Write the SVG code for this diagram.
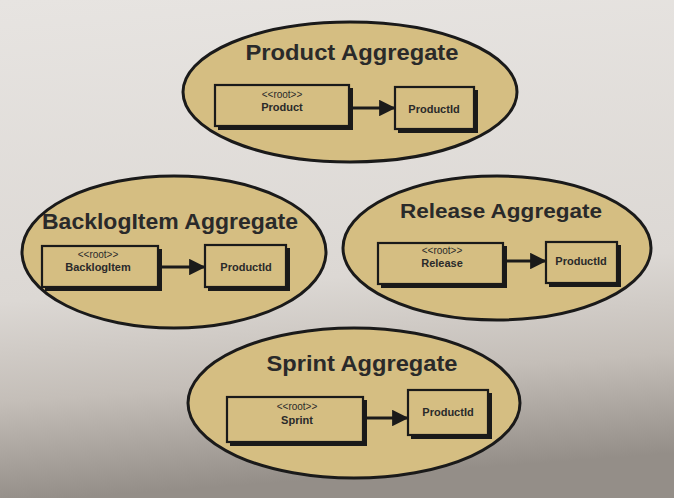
<svg xmlns="http://www.w3.org/2000/svg" width="674" height="498" viewBox="0 0 674 498">
  <defs>
    <linearGradient id="bg" x1="0" y1="0" x2="0.1" y2="1">
      <stop offset="0" stop-color="#e7e4e1"/>
      <stop offset="0.6" stop-color="#dcd8d4"/>
      <stop offset="0.8" stop-color="#c4beb8"/>
      <stop offset="1" stop-color="#948e88"/>
    </linearGradient>
    <marker id="arrow" viewBox="0 0 10 10" refX="9" refY="5" markerWidth="5.5" markerHeight="5.5" orient="auto" markerUnits="strokeWidth">
      <path d="M0,0 L10,5 L0,10 z" fill="#1a1a1a"/>
    </marker>
  </defs>
  <style>
    .agg { fill: #d5be82; stroke: #1a1a1a; stroke-width: 3; }
    .box { fill: #d5be82; stroke: #1a1a1a; stroke-width: 2.2; }
    .shadow { fill: #1a1a1a; }
    .title { font-family: "Liberation Sans", Arial, sans-serif; font-weight: bold; fill: #2a2a2a; text-anchor: middle; }
    .stereo { font-family: "Liberation Sans", Arial, sans-serif; font-size: 10px; fill: #2a2a2a; text-anchor: middle; }
    .name { font-family: "Liberation Sans", Arial, sans-serif; font-size: 11px; font-weight: bold; fill: #2a2a2a; text-anchor: middle; }
    .conn { stroke: #1a1a1a; stroke-width: 3; fill: none; }
  </style>
  <rect x="0" y="0" width="674" height="498" fill="url(#bg)"/>

  <g id="product-aggregate">
    <ellipse class="agg" cx="350" cy="92" rx="167" ry="70"/>
    <text class="title" x="352" y="60" font-size="22" textLength="213" lengthAdjust="spacingAndGlyphs">Product Aggregate</text>
    <g id="product-root">
      <rect class="shadow" x="218" y="88" width="135" height="42"/>
      <rect class="box" x="215" y="85" width="134" height="41"/>
      <text class="stereo" x="282" y="98">&lt;&lt;root&gt;&gt;</text>
      <text class="name" x="282" y="111">Product</text>
    </g>
    <g id="product-productid">
      <rect class="shadow" x="398" y="90" width="80" height="43"/>
      <rect class="box" x="395" y="87" width="79" height="42"/>
      <text class="name" x="434" y="113">ProductId</text>
    </g>
  </g>

  <g id="backlogitem-aggregate">
    <ellipse class="agg" cx="174" cy="252" rx="152" ry="76"/>
    <text class="title" x="170" y="229" font-size="22" textLength="256" lengthAdjust="spacingAndGlyphs">BacklogItem Aggregate</text>
    <g id="backlogitem-root">
      <rect class="shadow" x="45" y="249" width="117" height="42"/>
      <rect class="box" x="42" y="246" width="116" height="41"/>
      <text class="stereo" x="98" y="258">&lt;&lt;root&gt;&gt;</text>
      <text class="name" x="98" y="271">BacklogItem</text>
    </g>
    <g id="backlogitem-productid">
      <rect class="shadow" x="208" y="248" width="82" height="43"/>
      <rect class="box" x="205" y="245" width="81" height="42"/>
      <text class="name" x="246" y="271">ProductId</text>
    </g>
  </g>

  <g id="release-aggregate">
    <ellipse class="agg" cx="497" cy="248" rx="154" ry="72"/>
    <text class="title" x="501" y="218" font-size="21" textLength="202" lengthAdjust="spacingAndGlyphs">Release Aggregate</text>
    <g id="release-root">
      <rect class="shadow" x="381" y="246" width="126" height="42"/>
      <rect class="box" x="378" y="243" width="125" height="41"/>
      <text class="stereo" x="442" y="254">&lt;&lt;root&gt;&gt;</text>
      <text class="name" x="442" y="267">Release</text>
    </g>
    <g id="release-productid">
      <rect class="shadow" x="549" y="245" width="72" height="42"/>
      <rect class="box" x="546" y="242" width="71" height="41"/>
      <text class="name" x="581" y="265" font-size="9.5">ProductId</text>
    </g>
  </g>

  <g id="sprint-aggregate">
    <ellipse class="agg" cx="354" cy="403" rx="166" ry="75"/>
    <text class="title" x="362" y="371" font-size="22" textLength="191" lengthAdjust="spacingAndGlyphs">Sprint Aggregate</text>
    <g id="sprint-root">
      <rect class="shadow" x="230" y="400" width="137" height="46"/>
      <rect class="box" x="227" y="397" width="136" height="45"/>
      <text class="stereo" x="297" y="410">&lt;&lt;root&gt;&gt;</text>
      <text class="name" x="297" y="424">Sprint</text>
    </g>
    <g id="sprint-productid">
      <rect class="shadow" x="411" y="393" width="81" height="46"/>
      <rect class="box" x="408" y="390" width="80" height="45"/>
      <text class="name" x="448" y="416">ProductId</text>
    </g>
  </g>

  <g id="connectors">
    <line class="conn" x1="350" y1="108" x2="394" y2="108" marker-end="url(#arrow)"/>
    <line class="conn" x1="159" y1="267" x2="204" y2="267" marker-end="url(#arrow)"/>
    <line class="conn" x1="504" y1="261" x2="545" y2="261" marker-end="url(#arrow)"/>
    <line class="conn" x1="364" y1="418" x2="407" y2="418" marker-end="url(#arrow)"/>
  </g>
</svg>
